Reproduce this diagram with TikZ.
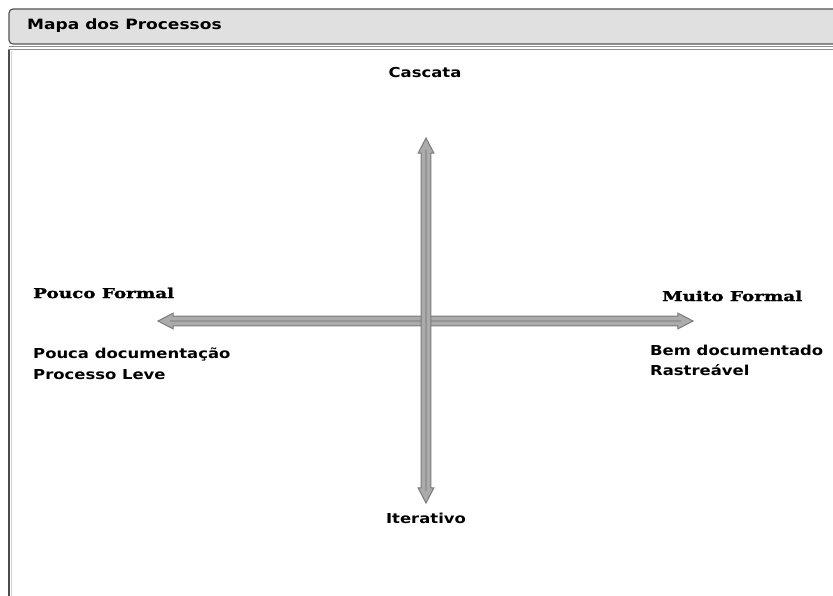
\documentclass[tikz,border=0pt]{standalone}
\usepackage{fontspec}
\usetikzlibrary{shapes.arrows}
\newfontfamily\labelsans[FakeStretch=1.2]{DejaVu Sans}
\newfontfamily\labelserif[FakeStretch=1.36, FakeBold=1.6]{DejaVu Serif Bold}
\definecolor{barfill}{HTML}{E0E0E0}
\definecolor{barline}{HTML}{555555}
\definecolor{edgegray}{HTML}{8C8C8C}
\definecolor{arrowfill}{HTML}{ABABAB}
\definecolor{arrowedge}{HTML}{7A7A7A}
\definecolor{arrowcore}{HTML}{959595}
\tikzset{
  sanslabel/.style={inner sep=0pt, font=\labelsans\bfseries\fontsize{13.7}{16}\selectfont},
  seriflabel/.style={inner sep=0pt, font=\labelserif\fontsize{13.5}{16}\selectfont},
  axisarrow/.style={double arrow, draw=arrowedge, fill=arrowfill, line width=1pt,
    inner xsep=0pt, inner ysep=4.4pt, double arrow head extend=3pt,
    double arrow tip angle=55, anchor=center},
  arrowline/.style={arrowcore, line width=1.6pt}
}
\begin{document}
\begin{tikzpicture}[x=1pt, y=-1pt]
  \useasboundingbox (0,0) rectangle (833,595);
  % title bar
  \fill[barfill, rounded corners=4pt] (9,9) rectangle (850,44);
  \draw[barline, line width=1.2pt, rounded corners=4pt] (850,9) -- (9,9) -- (9,44) -- (850,44);
  \draw[edgegray, line width=1.5pt] (9,46.5) -- (833,46.5);
  % content panel
  \draw[edgegray, line width=1.2pt] (833,49.5) -- (9,49.5) -- (9,600);
  \draw[black!70, line width=1.6pt] (9.2,50) -- (9.2,600);
  \draw[black!18, line width=1pt] (11,51) -- (11,600);
  \node[sanslabel, anchor=base west, font=\labelsans\bfseries\fontsize{14.2}{16}\selectfont] (title) at (27,29) {Mapa dos Processos};
  % axes
  \node[axisarrow, minimum height=535pt, minimum width=14pt] (harrow) at (425.5,321) {};
  \draw[arrowline] ([xshift=13pt]harrow.west) -- ([xshift=-13pt]harrow.east);
  \node[axisarrow, minimum height=365pt, minimum width=14pt, rotate=90] (varrow) at (426,320.5) {};
  \draw[arrowline] ([yshift=-13pt]varrow.east) -- ([yshift=13pt]varrow.west);
  % axis labels
  \node[sanslabel, anchor=base] (top) at (425,77) {Cascata};
  \node[sanslabel, anchor=base] (bottom) at (426,523) {Iterativo};
  \node[seriflabel, anchor=base west] (leftname) at (33,298) {Pouco Formal};
  \node[sanslabel, anchor=base west] (leftline1) at (33,358) {Pouca documentação};
  \node[sanslabel, anchor=base west] (leftline2) at (33,379) {Processo Leve};
  \node[seriflabel, anchor=base west] (rightname) at (662,301) {Muito Formal};
  \node[sanslabel, anchor=base west] (rightline1) at (650,355) {Bem documentado};
  \node[sanslabel, anchor=base west] (rightline2) at (650,375) {Rastreável};
\end{tikzpicture}
\end{document}
